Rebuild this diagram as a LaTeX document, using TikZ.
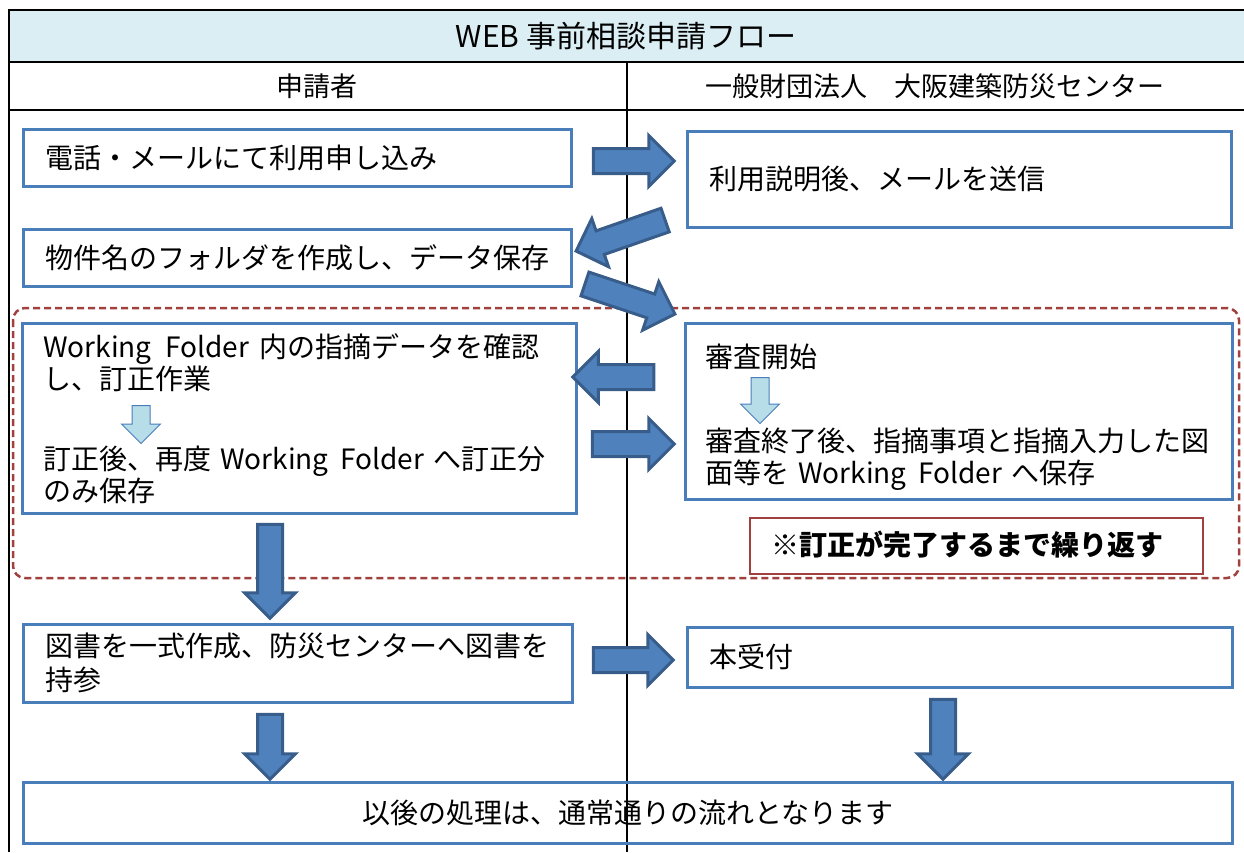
\documentclass[tikz,border=0pt]{standalone}
\usepackage{fontspec}
\setmainfont{Noto Sans CJK JP}
\usepackage{tikz}
\usetikzlibrary{
  positioning,
  calc,
  shapes.arrows}
\definecolor{boxblue}{HTML}{4A7EBB}
\definecolor{arrowfill}{HTML}{4F81BD}
\definecolor{arrowline}{HTML}{385D8A}
\definecolor{lightfill}{HTML}{B7DEE8}
\definecolor{lightline}{HTML}{4A7EBB}
\definecolor{titlefill}{HTML}{DAEEF3}
\definecolor{loopred}{HTML}{A0413E}
\tikzset{flowbox/.style={draw=boxblue, line width=2.5pt, anchor=north west, inner xsep=22pt, inner ysep=0pt, align=left},
         bigarrow/.style={single arrow, draw=arrowline, fill=arrowfill, line width=3pt, inner xsep=0pt, inner ysep=11pt, single arrow head extend=13pt},
         smallarrow/.style={single arrow, draw=lightline, fill=lightfill, line width=1pt, inner xsep=0pt, inner ysep=8.5pt, single arrow head extend=10.5pt},
         boxtext/.style={anchor=west, inner sep=0pt, align=left}
        }
% block arrow from tail to tip
\newcommand{\blockarrow}[3][bigarrow]{%
  \path let \p1 = (#2), \p2 = (#3),
    \n1 = {atan2(\y2-\y1,\x2-\x1)},
    \n2 = {veclen(\x2-\x1,\y2-\y1)} in
    node[#1, minimum height=\n2, rotate=\n1] at ($(#2)!0.5!(#3)$) {};
}
\newcommand{\wfolder}{\hspace{9pt}Working\hspace{12pt}Folder\hspace{9pt}}

\begin{document}
\begin{tikzpicture}[x=1pt, y=-1pt, font=\fontsize{28}{32}\selectfont]
\useasboundingbox (0,0) rectangle (1244,852);

%table
\fill[titlefill] (9,10) rectangle (1244,62);
\draw[line width=2.5pt] (1244,10) -- (9,10) -- (9,852);
\draw[line width=2.5pt] (9,62) -- (1244,62);
\draw[line width=2.5pt] (9,110) -- (1244,110);
\draw[line width=1.5pt] (627,62) -- (627,852);
\node(title) at (626,36){\fontsize{30}{34}\selectfont WEB 事前相談申請フロー};
\node(applicant) at (317,86){\fontsize{27}{30}\selectfont 申請者};
\node(center) at (935,86){\fontsize{27}{30}\selectfont 一般財団法人　大阪建築防災センター};

%repeat loop
\draw[loopred, line width=2.5pt, dash pattern=on 7pt off 4pt, rounded corners=12pt] (13,308) rectangle (1239,578);

%boxes
\node[flowbox, text width=504pt, minimum height=57pt](apply) at (22,128){電話・メールにて利用申し込み};
\node[flowbox, text width=500pt, minimum height=96pt](guide) at (686,130){利用説明後、メールを送信};
\node[flowbox, text width=504pt, minimum height=57pt](folder) at (22,228){物件名のフォルダを作成し、データ保存};

\node[flowbox, minimum width=554pt, minimum height=190pt](check) at (21,322){};
\node[boxtext](checktext) at (43,363){Working\hspace{14pt}Folder\hspace{10pt}内の指摘データを確認\\し、訂正作業};
\node[boxtext](fixtext) at (43,475){訂正後、再度\wfolder{}へ訂正分\\のみ保存};

\node[flowbox, minimum width=547pt, minimum height=176pt](review) at (684,322){};
\node[boxtext](reviewstart) at (705,357){審査開始};
\node[boxtext](reviewend) at (705,459){審査終了後、指摘事項と指摘入力した図\\面等を\wfolder{}へ保存};

\node[draw=loopred, line width=2pt, minimum width=453pt, minimum height=56pt, anchor=north west](note) at (749,517){};
\node[font=\fontsize{28}{32}\selectfont\bfseries](notetext) at (967,545){※訂正が完了するまで繰り返す};

\node[flowbox, text width=505pt, minimum height=78pt](books) at (22,623){図書を一式作成、防災センターへ図書を\\[2pt]持参};
\node[flowbox, text width=501pt, minimum height=60pt](reception) at (686,626){本受付};
\node[flowbox, minimum width=1209pt, minimum height=61pt, align=center](after) at (22,781){以後の処理は、通常通りの流れとなります};

%arrow ends
\coordinate (a1) at (587,161);
\coordinate (a2) at (668,161);
\coordinate (b1) at (671,218);
\coordinate (b2) at (582,249);
\coordinate (c1) at (579,282);
\coordinate (c2) at (669,312);
\coordinate (d1) at (660,377);
\coordinate (d2) at (579,377);
\coordinate (e1) at (586,444);
\coordinate (e2) at (668,444);
\coordinate (f1) at (270,518);
\coordinate (f2) at (270,612);
\coordinate (g1) at (270,708);
\coordinate (g2) at (270,773);
\coordinate (h1) at (943,693);
\coordinate (h2) at (943,773);
\coordinate (k1) at (587,660);
\coordinate (k2) at (667,660);
\coordinate (s1) at (141,401);
\coordinate (s2) at (141,439);
\coordinate (t1) at (760,373);
\coordinate (t2) at (760,419);

%lines
\blockarrow{a1}{a2}
\blockarrow{b1}{b2}
\blockarrow{c1}{c2}
\blockarrow{d1}{d2}
\blockarrow{e1}{e2}
\blockarrow{f1}{f2}
\blockarrow{g1}{g2}
\blockarrow{h1}{h2}
\blockarrow{k1}{k2}
\blockarrow[smallarrow]{s1}{s2}
\blockarrow[smallarrow]{t1}{t2}

\end{tikzpicture}
\end{document}
